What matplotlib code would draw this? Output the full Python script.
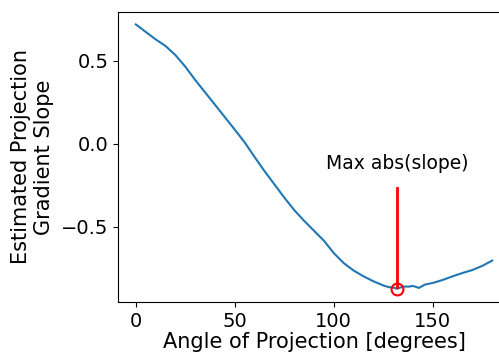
import matplotlib
matplotlib.use("Agg")
import matplotlib.pyplot as plt
import numpy as np

angles = [0, 5, 10, 15, 20, 25, 30, 35, 40, 45, 50, 55, 60, 65, 70, 75, 80, 85,
          90, 95, 100, 105, 110, 115, 120, 125, 128, 130, 132, 135, 138, 140,
          143, 146, 150, 155, 160, 165, 170, 175, 180]
slopes = [0.720, 0.675, 0.630, 0.590, 0.535, 0.465, 0.385, 0.310, 0.235, 0.160,
          0.085, 0.008, -0.080, -0.165, -0.245, -0.325, -0.400, -0.465, -0.525,
          -0.585, -0.660, -0.720, -0.765, -0.800, -0.830, -0.855, -0.866, -0.868,
          -0.875, -0.862, -0.862, -0.858, -0.870, -0.850, -0.840, -0.822, -0.800,
          -0.780, -0.762, -0.737, -0.705]
annot_text = "Max abs(slope)"
xlabel = "Angle of Projection [degrees]"
ylabel = "Estimated Projection\nGradient Slope"

fig = plt.figure(figsize=(4.99, 3.56), dpi=100)
ax = fig.add_axes([118/499, 1-302/356, (510-118)/499, (302-12)/356])
ax.plot(angles, slopes, color="C0", lw=1.5)

i = int(np.argmin(slopes))
xm, ym = angles[i], slopes[i]
ax.plot([xm, xm], [ym + 0.012, -0.27], color="red", lw=2)
ax.plot([xm], [ym], marker="o", mfc="none", mec="red", ms=8.5, mew=1.5)
ax.text(xm, -0.12, annot_text, ha="center", va="center", fontsize=13.5)

ax.set_xlim(-9, 189)
ax.set_ylim(-0.955, 0.795)
ax.set_xticks([0, 50, 100, 150])
ax.set_yticks([0.5, 0.0, -0.5])
ax.tick_params(labelsize=14)
ax.set_xlabel(xlabel, fontsize=15, labelpad=1)
ax.set_ylabel(ylabel, fontsize=15, labelpad=5)

fig.savefig("out.png", dpi=100)
